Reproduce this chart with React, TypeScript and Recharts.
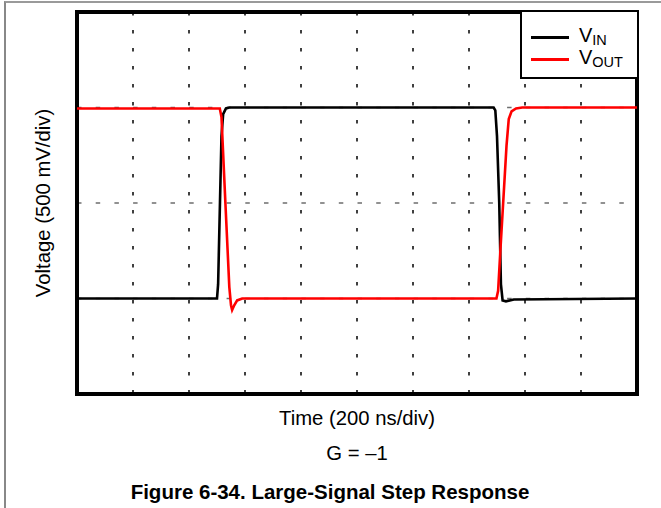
import React from 'react';
import {
  LineChart, Line, XAxis, YAxis, CartesianGrid,
  ReferenceArea, Legend,
} from 'recharts';

// time in divisions (200 ns/div), level in divisions (500 mV/div)
const vinTime  = [0, 2.5, 2.52, 2.58, 2.61, 2.66, 2.72, 7.44, 7.47, 7.5, 7.54, 7.57, 7.6, 7.66, 7.8, 10];
const vinLevel = [1, 1, 1.15, 2.7, 2.93, 2.99, 3.0, 3.0, 2.97, 2.7, 2.0, 1.15, 0.98, 0.97, 0.99, 1];

const voutTime  = [0, 2.55, 2.58, 2.65, 2.72, 2.75, 2.77, 2.8, 2.86, 2.95, 3.1, 7.49, 7.52, 7.56, 7.61, 7.67, 7.71, 7.76, 7.84, 7.95, 10];
const voutLevel = [2.99, 2.99, 2.9, 2.0, 1.12, 0.93, 0.88, 0.92, 0.98, 1.0, 1.0, 1.0, 1.08, 1.5, 2.0, 2.6, 2.88, 2.96, 2.99, 3.0, 3.0];

const timeTicks  = [0, 1, 2, 3, 4, 5, 6, 7, 8, 9, 10];
const levelTicks = [0, 1, 2, 3, 4];

const vin  = vinTime.map((t, i) => ({ t, v: vinLevel[i] }));
const vout = voutTime.map((t, i) => ({ t, v: voutLevel[i] }));

const FONT = 'Arial, "Liberation Sans", Helvetica, sans-serif';
const LEGEND_H = 67;

function ScopeLegend({ payload }: any) {
  return (
    <div
      style={{
        width: '100%', height: '100%', boxSizing: 'border-box',
        borderLeft: '2.5px solid #000', borderBottom: '2.5px solid #000',
        background: '#fff', paddingTop: 14, paddingLeft: 9,
      }}
    >
      {(payload || []).map((p: any) => (
        <div key={p.value} style={{ display: 'flex', alignItems: 'center', height: 22 }}>
          <span style={{ display: 'inline-block', width: 38, height: 3, background: p.color }} />
          <span style={{ marginLeft: 10, fontSize: 20, color: '#000', lineHeight: '20px' }}>
            {p.value.slice(0, 1)}
            <sub style={{ fontSize: 14.5, verticalAlign: '-3px' }}>{p.value.slice(1)}</sub>
          </span>
        </div>
      ))}
    </div>
  );
}

export default function App() {
  return (
    <div style={{ position: 'absolute', left: 0, top: 0, width: 661, height: 508, background: '#fff', fontFamily: FONT }}>
      <div style={{ position: 'absolute', left: 4, top: 1, right: 0, bottom: 0, borderTop: '2px solid #9a9a9a', borderLeft: '2px solid #888' }} />
      {/* the legend box reserves its height at the bottom, so take it back out of the margin */}
      <LineChart width={661} height={508} margin={{ top: 12, right: 24, bottom: 114 - LEGEND_H, left: 77 }}>
        <XAxis type="number" dataKey="t" domain={[0, 10]} ticks={timeTicks} hide allowDuplicatedCategory={false} />
        <YAxis type="number" domain={[0, 4]} ticks={levelTicks} hide />
        <CartesianGrid horizontal={false} stroke="#000" strokeDasharray="3.5 14.5" strokeWidth={1.5} />
        <CartesianGrid vertical={false} stroke="#6e6e6e" strokeDasharray="4.5 14.2" strokeWidth={1.5} />
        <ReferenceArea x1={0} x2={10} y1={0} y2={4} fill="none" stroke="#000" strokeWidth={4} fillOpacity={0} ifOverflow="visible" />
        <Line data={vin} dataKey="v" name="VIN" stroke="#000" strokeWidth={2.6} dot={false} type="linear" isAnimationActive={false} />
        <Line data={vout} dataKey="v" name="VOUT" stroke="#ff0000" strokeWidth={2.6} dot={false} type="linear" isAnimationActive={false} />
        <Legend
          content={<ScopeLegend />}
          wrapperStyle={{ position: 'absolute', left: 520, top: 12, width: 117, height: LEGEND_H }}
        />
      </LineChart>
      <div style={{ position: 'absolute', left: 43, top: 203, transform: 'translate(-50%, -50%) rotate(-90deg)', fontSize: 20.3, whiteSpace: 'nowrap', color: '#000' }}>
        Voltage (500 mV/div)
      </div>
      <div style={{ position: 'absolute', left: 357, top: 418, transform: 'translate(-50%, -50%)', fontSize: 20.3, whiteSpace: 'nowrap', color: '#000' }}>
        Time (200 ns/div)
      </div>
      <div style={{ position: 'absolute', left: 357, top: 453, transform: 'translate(-50%, -50%)', fontSize: 20.3, whiteSpace: 'nowrap', color: '#000' }}>
        G = –1
      </div>
      <div style={{ position: 'absolute', left: 330, top: 492, transform: 'translate(-50%, -50%)', fontSize: 20.5, fontWeight: 'bold', whiteSpace: 'nowrap', color: '#000' }}>
        Figure 6-34. Large-Signal Step Response
      </div>
    </div>
  );
}
